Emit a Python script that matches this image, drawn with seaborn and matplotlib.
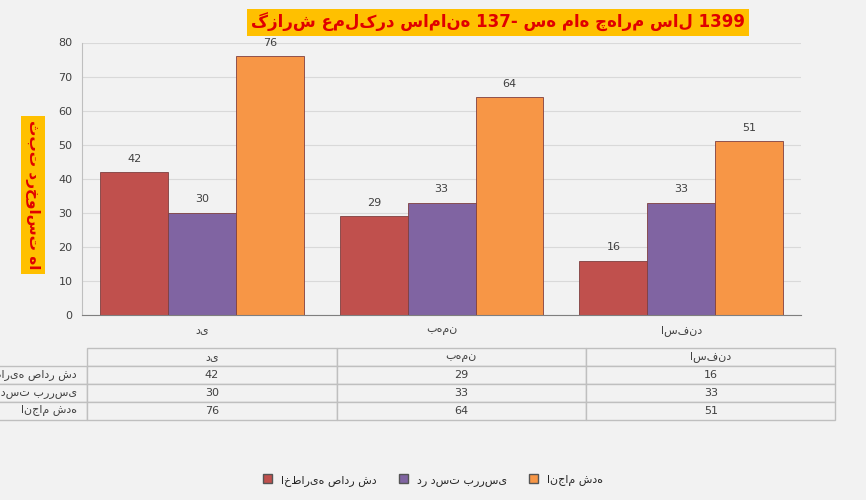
import pandas as pd
import matplotlib.pyplot as plt
import seaborn as sns

months = ['دی', 'بهمن', 'اسفند']
series = ['اخطاریه صادر شد', 'در دست بررسی', 'انجام شده']
issued = [42, 29, 16]
reviewing = [30, 33, 33]
done = [76, 64, 51]
colors = ['#C0504D', '#8064A2', '#F79646']

df = pd.DataFrame({
    'month': months * 3,
    'series': [series[0]] * 3 + [series[1]] * 3 + [series[2]] * 3,
    'value': issued + reviewing + done,
})

sns.set_style('white')
plt.rcParams['font.family'] = ['DejaVu Sans']

fig = plt.figure(figsize=(8.66, 5), dpi=100)
fig.patch.set_facecolor('#F2F2F2')
ax = fig.add_axes([0.095, 0.37, 0.83, 0.545])
ax.set_facecolor('#F2F2F2')
sns.barplot(data=df, x='month', y='value', hue='series', palette=colors,
            saturation=1, width=0.85, edgecolor='#7F3F3F', linewidth=0.6,
            ax=ax, legend=False)
for c in ax.containers:
    ax.bar_label(c, padding=6, fontsize=8, color='#404040')
ax.set_ylim(0, 80)
ax.set_yticks(range(0, 81, 10))
ax.yaxis.grid(True, color='#D9D9D9', linewidth=0.8)
ax.set_axisbelow(True)
ax.set_xlabel('')
ax.set_ylabel('')
ax.tick_params(labelsize=8, colors='#404040')
for s in ['top', 'right']:
    ax.spines[s].set_visible(False)
ax.spines['left'].set_color('#BFBFBF')
ax.spines['bottom'].set_color('#7F7F7F')

fig.text(0.575, 0.955, 'گزارش عملکرد سامانه 137- سه ماه چهارم سال 1399',
         ha='center', va='center', fontsize=12, fontweight='bold', color='#E00000',
         bbox=dict(facecolor='#FFC000', edgecolor='none', pad=3))
fig.text(0.038, 0.61, 'ثبت درخواست ها', rotation=270, ha='center', va='center',
         fontsize=11, fontweight='bold', color='#E00000',
         bbox=dict(facecolor='#FFC000', edgecolor='none', pad=3))

# data table
tab_ax = fig.add_axes([0.018, 0.16, 0.96, 0.145])
tab_ax.axis('off')
cells = [[str(v) for v in row] for row in [issued, reviewing, done]]
tbl = tab_ax.table(cellText=cells, rowLabels=series, colLabels=months,
                   loc='center', cellLoc='center', rowLoc='right',
                   bbox=[0.1, 0, 0.9, 1])
tbl.auto_set_font_size(False)
tbl.set_fontsize(8)
for (r, c), cell in tbl.get_celld().items():
    cell.set_edgecolor('#BFBFBF')
    cell.set_facecolor('#F2F2F2')
    cell.get_text().set_color('#404040')
    if c == -1:
        cell.set_width(0.1)
        cell.set_x(0.0)

handles = [plt.Rectangle((0, 0), 1, 1, facecolor=c, edgecolor='#555555') for c in colors]
fig.legend(handles, series, loc='center', bbox_to_anchor=(0.5, 0.04), ncol=3,
           frameon=False, fontsize=8, handlelength=0.8, handleheight=0.8)

fig.savefig('out.png', dpi=100, facecolor=fig.get_facecolor())
